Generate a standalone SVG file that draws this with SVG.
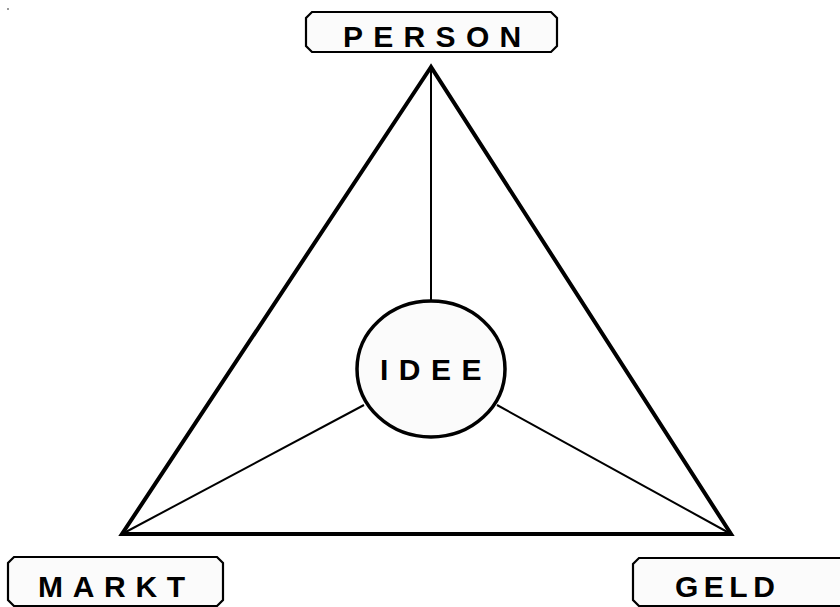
<svg xmlns="http://www.w3.org/2000/svg" width="840" height="607" viewBox="0 0 840 607">
<style>
.box{fill:#fbfbfb;stroke:#000;stroke-width:2.2;stroke-linejoin:miter}
.lbl{font-family:"Liberation Sans",Arial,sans-serif;font-weight:bold;font-size:30px;fill:#000;letter-spacing:10.3px}
.tri{fill:none;stroke:#000;stroke-width:4;stroke-linejoin:miter}
.spoke{stroke:#000;stroke-width:2;fill:none}
</style>
<rect width="840" height="607" fill="#fff"/>
<rect x="7" y="8" width="2" height="2" fill="#999"/>
<g id="connectors">
<polygon class="tri" points="431,67 122,534 731,534"/>
<line class="spoke" x1="431" y1="67" x2="431" y2="301"/>
<line class="spoke" x1="122" y1="534" x2="364" y2="405"/>
<line class="spoke" x1="731" y1="534" x2="497" y2="405"/>
</g>
<g id="idee">
<ellipse cx="431" cy="369" rx="74" ry="68" fill="#fbfbfb" stroke="#000" stroke-width="3.5"/>
<text class="lbl" x="380" y="380" style="letter-spacing:10.5px">IDEE</text>
</g>
<g id="person">
<polygon class="box" points="312,12 551,12 557,18 557,46 551,52 312,52 306,46 306,18"/>
<text class="lbl" x="343" y="47">PERSON</text>
</g>
<g id="markt">
<polygon class="box" points="14,557 217,557 223,563 223,600 217,606 14,606 8,600 8,563"/>
<text class="lbl" x="38" y="597" style="letter-spacing:9.7px">MARKT</text>
</g>
<g id="geld">
<polygon class="box" points="639,558 845,558 845,606 639,606 633,600 633,564"/>
<text class="lbl" x="675" y="597" style="letter-spacing:5.5px">GELD</text>
</g>
</svg>
